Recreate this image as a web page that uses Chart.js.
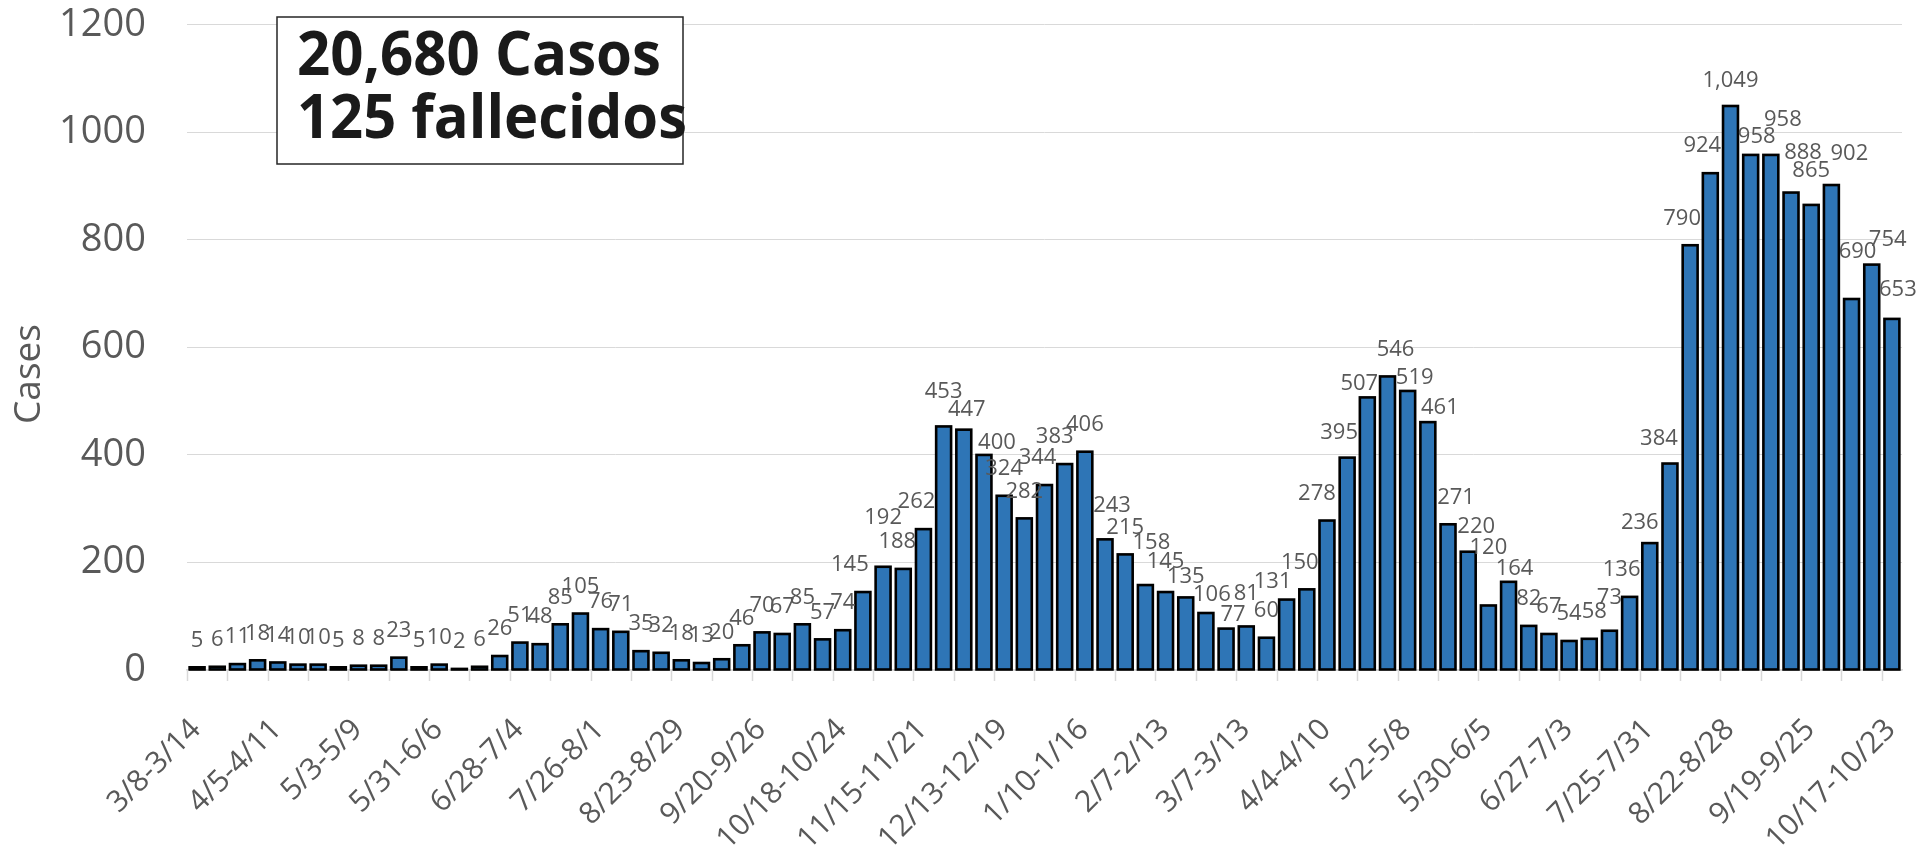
<!DOCTYPE html>
<html>
<head>
<meta charset="utf-8">
<script src="https://cdn.jsdelivr.net/npm/chart.js@4.4.1/dist/chart.umd.min.js"></script>
<style>
  html, body { margin: 0; padding: 0; background: #ffffff; overflow: hidden; }
  #wrap { position: relative; width: 1923px; height: 845px; }
</style>
</head>
<body>
<div id="wrap"><canvas id="chart" width="1923" height="845"></canvas></div>
<script>
// Weekly periods (Sunday to Saturday)
const weeks = [
  '3/8-3/14', '3/15-3/21', '3/22-3/28', '3/29-4/4', '4/5-4/11', '4/12-4/18', '4/19-4/25', '4/26-5/2',
  '5/3-5/9', '5/10-5/16', '5/17-5/23', '5/24-5/30', '5/31-6/6', '6/7-6/13', '6/14-6/20', '6/21-6/27',
  '6/28-7/4', '7/5-7/11', '7/12-7/18', '7/19-7/25', '7/26-8/1', '8/2-8/8', '8/9-8/15', '8/16-8/22',
  '8/23-8/29', '8/30-9/5', '9/6-9/12', '9/13-9/19', '9/20-9/26', '9/27-10/3', '10/4-10/10', '10/11-10/17',
  '10/18-10/24', '10/25-10/31', '11/1-11/7', '11/8-11/14', '11/15-11/21', '11/22-11/28', '11/29-12/5', '12/6-12/12',
  '12/13-12/19', '12/20-12/26', '12/27-1/2', '1/3-1/9', '1/10-1/16', '1/17-1/23', '1/24-1/30', '1/31-2/6',
  '2/7-2/13', '2/14-2/20', '2/21-2/27', '2/28-3/6', '3/7-3/13', '3/14-3/20', '3/21-3/27', '3/28-4/3',
  '4/4-4/10', '4/11-4/17', '4/18-4/24', '4/25-5/1', '5/2-5/8', '5/9-5/15', '5/16-5/22', '5/23-5/29',
  '5/30-6/5', '6/6-6/12', '6/13-6/19', '6/20-6/26', '6/27-7/3', '7/4-7/10', '7/11-7/17', '7/18-7/24',
  '7/25-7/31', '8/1-8/7', '8/8-8/14', '8/15-8/21', '8/22-8/28', '8/29-9/4', '9/5-9/11', '9/12-9/18',
  '9/19-9/25', '9/26-10/2', '10/3-10/9', '10/10-10/16', '10/17-10/23'
];

// New cases per week
const cases = [
  5, 6, 11, 18, 14, 10, 10, 5, 8, 8, 23, 5, 10, 2, 6, 26,
  51, 48, 85, 105, 76, 71, 35, 32, 18, 13, 20, 46, 70, 67, 85, 57,
  74, 145, 192, 188, 262, 453, 447, 400, 324, 282, 344, 383, 406, 243,
  215, 158, 145, 135, 106, 77, 81, 60, 131, 150, 278, 395, 507, 546,
  519, 461, 271, 220, 120, 164, 82, 67, 54, 58, 73, 136, 236, 384,
  790, 924, 1049, 958, 958, 888, 865, 902, 690, 754, 653
];

// Value axis ticks
const yTicks = [0, 200, 400, 600, 800, 1000, 1200];
const yTitle = 'Cases';

// Summary box text
const summaryLines = ['20,680 Casos', '125 fallecidos'];

// Hand placement of crowded value labels: index -> [dx, dy]
const labelNudges = {
  33: [-13, 0], 34: [0, -22], 35: [-6, 0], 36: [-7, 0], 37: [0, -8], 38: [3, 7], 39: [13, 15],
  42: [-7, 0], 43: [-10, 0], 45: [7, -7], 47: [6, -15], 48: [0, -3], 49: [0, 6], 50: [6, 9],
  51: [7, 13], 52: [0, -6], 54: [-14, 9], 55: [-7, 0], 56: [-10, 0], 57: [-8, 2], 58: [-8, 13],
  59: [8, 0], 60: [7, 14],
  61: [12, 13], 62: [8, 0], 63: [8, 2], 64: [0, -31], 65: [6, 14], 69: [5, 0], 70: [0, -6],
  71: [-8, 0], 72: [-10, 7], 73: [-11, 2], 74: [-8, 0], 75: [-8, 0], 76: [0, 2], 77: [6, 9],
  78: [12, -8], 79: [12, -13], 80: [0, -7], 81: [18, -4], 82: [6, -20], 83: [16, 2], 84: [6, -2]
};

const FONT = '"Open Sans", "Noto Sans", sans-serif';
const AXIS_GREY = '#d9d9d9';
const TEXT_GREY = '#595959';

// Short tick marks under the category axis, one every second week
const categoryTicks = {
  id: 'categoryTicks',
  afterDraw(chart) {
    const xs = chart.scales.x;
    const ctx = chart.ctx;
    const half = (xs.getPixelForTick(1) - xs.getPixelForTick(0)) / 2;
    ctx.save();
    ctx.strokeStyle = AXIS_GREY;
    ctx.lineWidth = 1.5;
    ctx.beginPath();
    for (let i = 0; i < weeks.length; i += 2) {
      const x = Math.round(xs.getPixelForTick(i) - half) + 0.5;
      ctx.moveTo(x, xs.top);
      ctx.lineTo(x, xs.top + 11);
    }
    ctx.stroke();
    ctx.restore();
  }
};

// Black outline centred on each bar edge, then the value above it
const barDecor = {
  id: 'barDecor',
  afterDatasetsDraw(chart) {
    const ctx = chart.ctx;
    const meta = chart.getDatasetMeta(0);
    ctx.save();
    ctx.strokeStyle = '#000000';
    ctx.lineWidth = 2.6;
    ctx.lineJoin = 'miter';
    meta.data.forEach(bar => {
      const p = bar.getProps(['x', 'y', 'base', 'width'], true);
      ctx.strokeRect(p.x - p.width / 2, p.y, p.width, p.base - p.y);
    });
    ctx.font = '22px ' + FONT;
    ctx.fillStyle = TEXT_GREY;
    ctx.textAlign = 'center';
    ctx.textBaseline = 'middle';
    meta.data.forEach((bar, i) => {
      const n = labelNudges[i] || [0, 0];
      ctx.fillText(cases[i].toLocaleString('en-US'), bar.x + n[0], bar.y - 27 + n[1]);
    });
    ctx.restore();
  }
};

// Value axis title and the boxed totals in the upper left
const annotations = {
  id: 'annotations',
  afterDraw(chart) {
    const ctx = chart.ctx;
    ctx.save();
    ctx.translate(29, 374);
    ctx.rotate(-Math.PI / 2);
    ctx.font = '37px ' + FONT;
    ctx.fillStyle = TEXT_GREY;
    ctx.textAlign = 'center';
    ctx.textBaseline = 'middle';
    ctx.fillText(yTitle, 0, 0);
    ctx.restore();

    ctx.save();
    ctx.fillStyle = '#ffffff';
    ctx.fillRect(277, 17, 406, 147);
    ctx.strokeStyle = '#262626';
    ctx.lineWidth = 1.5;
    ctx.strokeRect(277, 17, 406, 147);
    ctx.fillStyle = '#1a1a1a';
    ctx.font = 'bold 60px ' + FONT;
    ctx.textAlign = 'left';
    ctx.textBaseline = 'alphabetic';
    ctx.fillText(summaryLines[0], 297, 75, 364);
    ctx.fillText(summaryLines[1], 297, 138, 390);
    ctx.restore();
  }
};

function draw() {
  new Chart(document.getElementById('chart'), {
    type: 'bar',
    data: {
      labels: weeks,
      datasets: [{
        label: 'Cases',
        data: cases,
        backgroundColor: '#2e75b6',
        borderWidth: 0,
        barPercentage: 0.74,
        categoryPercentage: 1.0
      }]
    },
    options: {
      responsive: false,
      animation: false,
      devicePixelRatio: 1,
      layout: { padding: { top: 0, right: 21, bottom: 0, left: 0 } },
      plugins: { legend: { display: false }, tooltip: { enabled: false } },
      scales: {
        x: {
          offset: true,
          grid: {
            offset: true,
            drawOnChartArea: false,
            drawTicks: true,
            tickLength: 40,
            tickColor: 'rgba(0,0,0,0)',
            color: 'rgba(0,0,0,0)'
          },
          border: { display: true, color: AXIS_GREY, width: 1.5 },
          ticks: {
            autoSkip: false,
            minRotation: 45,
            maxRotation: 45,
            padding: 2,
            labelOffset: -1,
            color: TEXT_GREY,
            font: { family: FONT, size: 30 },
            callback: (v, i) => (i % 4 === 0 ? weeks[i] : '')
          },
          afterFit: s => { s.height = 175; }
        },
        y: {
          min: 0,
          max: 1200,
          afterBuildTicks: s => { s.ticks = yTicks.map(v => ({ value: v })); },
          grid: {
            color: AXIS_GREY,
            lineWidth: 1,
            drawTicks: true,
            tickLength: 39,
            tickColor: 'rgba(0,0,0,0)'
          },
          border: { display: false },
          ticks: {
            padding: 2,
            color: TEXT_GREY,
            font: { family: FONT, size: 38 },
            callback: v => String(v)
          },
          afterFit: s => { s.width = 187; }
        }
      }
    },
    plugins: [barDecor, categoryTicks, annotations]
  });
}

Promise.all([
  document.fonts.load('22px "Open Sans"'),
  document.fonts.load('bold 60px "Open Sans"')
]).then(draw, draw);
</script>
</body>
</html>
